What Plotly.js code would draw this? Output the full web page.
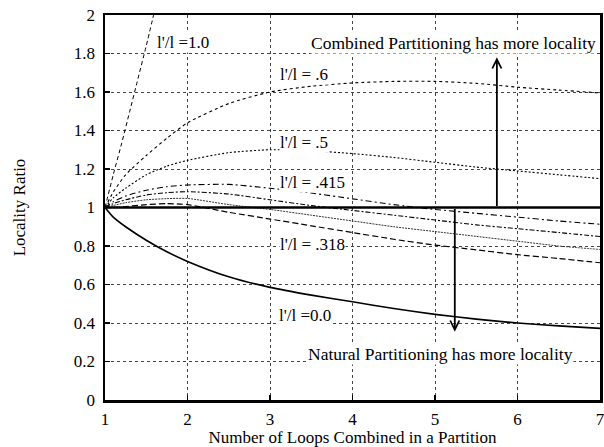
<!DOCTYPE html>
<html>
<head>
<meta charset="utf-8">
<script src="https://cdn.plot.ly/plotly-3.0.1.min.js"></script>
<style>html,body{margin:0;padding:0;background:#fff;}#chart{width:604px;height:447px;}</style>
</head>
<body>
<div id="chart"></div>
<script>
// Data
const xSteep = [1, 1.1, 1.2, 1.3, 1.4, 1.5, 1.6];
const ySteep10 = [1, 1.17, 1.33, 1.5, 1.67, 1.84, 2.02];

const xCurve = [1, 1.1, 1.25, 1.5, 1.75, 2, 2.5, 3, 3.5, 4, 4.5, 5, 5.5, 6, 6.5, 7];
const y06  = [1, 1.08, 1.17, 1.27, 1.36, 1.44, 1.54, 1.60, 1.63, 1.647, 1.655, 1.655, 1.645, 1.625, 1.61, 1.595];
const y05  = [1, 1.05, 1.1, 1.17, 1.215, 1.245, 1.285, 1.30, 1.295, 1.28, 1.26, 1.235, 1.21, 1.19, 1.17, 1.15];
const y0415 = [1, 1.03, 1.06, 1.09, 1.108, 1.117, 1.12, 1.10, 1.075, 1.045, 1.015, 0.99, 0.97, 0.95, 0.93, 0.913];
const yMidA = [1, 1.02, 1.04, 1.065, 1.077, 1.082, 1.07, 1.04, 1.01, 0.985, 0.96, 0.935, 0.91, 0.89, 0.87, 0.849];
const yMidB = [1, 1.01, 1.025, 1.04, 1.046, 1.047, 1.015, 0.99, 0.96, 0.93, 0.90, 0.875, 0.85, 0.825, 0.80, 0.782];
const y0318 = [1, 1.0, 1.005, 1.015, 1.02, 1.015, 0.975, 0.94, 0.905, 0.87, 0.835, 0.805, 0.78, 0.755, 0.735, 0.713];
const y00  = [1, 0.95, 0.9, 0.83, 0.77, 0.72, 0.64, 0.585, 0.545, 0.51, 0.475, 0.445, 0.42, 0.40, 0.385, 0.372];

const refX = [1, 7];
const refY = [1, 1];

const xTicks = [1, 2, 3, 4, 5, 6, 7];
const yTicks = [0, 0.2, 0.4, 0.6, 0.8, 1, 1.2, 1.4, 1.6, 1.8, 2];

const labels = ["l'/l =1.0", "l'/l = .6", "l'/l = .5", "l'/l = .415", "l'/l = .318", "l'/l =0.0"];
const labelX = [1.945, 3.41, 3.41, 3.51, 3.51, 3.43];
const labelY = [1.855, 1.69, 1.34, 1.13, 0.81, 0.44];

const FONT = "Liberation Serif";

function line(x, y, dash, width, color) {
  return {x: x, y: y, type: 'scatter', mode: 'lines', showlegend: false, hoverinfo: 'skip',
          line: {color: color || '#000', width: width, dash: dash, shape: 'spline', smoothing: 0.6}};
}

const traces = [
  line(xSteep, ySteep10, '4px,3px', 1),
  line(xCurve, y06, '3px,3px', 1.1),
  line(xCurve, y05, '2px,2px', 1.1),
  line(xCurve, y0415, '6px,3px,2px,3px', 1.1),
  line(xCurve, yMidA, '5px,2px,2px,2px', 1.1),
  line(xCurve, yMidB, '2px,1px', 1, '#333'),
  line(xCurve, y0318, '6px,3px', 1.2),
  line(xCurve, y00, 'solid', 1.6),
  {x: refX, y: refY, type: 'scatter', mode: 'lines', showlegend: false, hoverinfo: 'skip',
   line: {color: '#000', width: 2.5}}
];

const annotations = labels.map((t, i) => ({
  x: labelX[i], y: labelY[i], xref: 'x', yref: 'y', text: t, showarrow: false,
  font: {family: FONT, size: 17, color: '#000'}, bgcolor: '#fff', borderpad: 0
}));
annotations.push({x: 5.22, y: 1.855, xref: 'x', yref: 'y', text: 'Combined Partitioning has more locality',
  showarrow: false, font: {family: FONT, size: 17.5, color: '#000'}, bgcolor: '#fff', borderpad: 0});
annotations.push({x: 5.07, y: 0.24, xref: 'x', yref: 'y', text: 'Natural Partitioning has more locality',
  showarrow: false, font: {family: FONT, size: 17.5, color: '#000'}, bgcolor: '#fff', borderpad: 0});
annotations.push({x: 5.75, y: 1.78, ax: 5.75, ay: 1.0, xref: 'x', yref: 'y', axref: 'x', ayref: 'y',
  text: '', showarrow: true, arrowhead: 5, arrowsize: 1, arrowwidth: 1.8, arrowcolor: '#000'});
annotations.push({x: 5.24, y: 0.355, ax: 5.24, ay: 1.0, xref: 'x', yref: 'y', axref: 'x', ayref: 'y',
  text: '', showarrow: true, arrowhead: 5, arrowsize: 1, arrowwidth: 1.8, arrowcolor: '#000'});

const layout = {
  width: 604, height: 447,
  margin: {l: 105, r: 4, t: 15, b: 47},
  paper_bgcolor: '#fff', plot_bgcolor: '#fff',
  font: {family: FONT, size: 17, color: '#000'},
  showlegend: false,
  xaxis: {
    range: [1, 7], tickvals: xTicks, ticktext: xTicks.map(String),
    ticks: 'inside', ticklen: 5, tickwidth: 1.5, tickcolor: '#000',
    showgrid: true, gridcolor: '#444', griddash: 'dot', gridwidth: 1,
    showline: true, linecolor: '#000', linewidth: 2.5, mirror: true,
    zeroline: false, ticklabelstandoff: 2, ticklabeloverflow: 'allow',
    tickfont: {family: FONT, size: 17, color: '#000'},
    title: {text: 'Number of Loops Combined in a Partition', standoff: 2,
            font: {family: FONT, size: 17, color: '#000'}},
    automargin: false
  },
  yaxis: {
    range: [0, 2], tickvals: yTicks, ticktext: yTicks.map(v => String(v)),
    ticks: 'inside', ticklen: 5, tickwidth: 1.5, tickcolor: '#000',
    showgrid: true, gridcolor: '#444', griddash: 'dot', gridwidth: 1,
    showline: true, linecolor: '#000', linewidth: 2.5, mirror: true,
    zeroline: false, ticklabelstandoff: 4,
    tickfont: {family: FONT, size: 17, color: '#000'},
    title: {text: 'Locality Ratio', standoff: 44,
            font: {family: FONT, size: 17, color: '#000'}},
    automargin: false
  },
  annotations: annotations
};

Plotly.newPlot('chart', traces, layout, {displayModeBar: false, staticPlot: true});
</script>
</body>
</html>
